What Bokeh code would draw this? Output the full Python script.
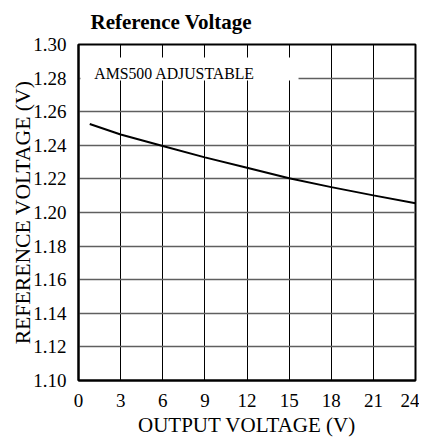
from bokeh.plotting import figure
from bokeh.models import Range1d, FixedTicker, PrintfTickFormatter, ColumnDataSource
from bokeh.core.properties import value
from bokeh.embed import file_html
from bokeh.resources import INLINE

# ---- data ----
output_voltage = [0.8, 3, 6, 9, 12, 15, 18, 21, 24]
reference_voltage = [1.2527, 1.2464, 1.2396, 1.2328, 1.2266, 1.2204, 1.2151, 1.2102, 1.2055]
x_ticks = [0, 3, 6, 9, 12, 15, 18, 21, 24]
y_ticks = [1.10, 1.12, 1.14, 1.16, 1.18, 1.20, 1.22, 1.24, 1.26, 1.28, 1.30]
series_label = "AMS500 ADJUSTABLE"
title_text = "Reference Voltage"
x_label = "OUTPUT VOLTAGE (V)"
y_label = "REFERENCE VOLTAGE (V)"

FONT = "Liberation Serif"

p = figure(
    frame_width=337, frame_height=336,
    x_range=Range1d(0, 24), y_range=Range1d(1.10, 1.30),
    output_backend="svg", toolbar_location=None,
    min_border_left=78, min_border_top=42, min_border_right=4, min_border_bottom=50,
    title=title_text,
)
p.background_fill_color = "white"
p.border_fill_color = "white"
p.outline_line_color = "black"
p.outline_line_width = 2

p.title.text_font = FONT
p.title.text_font_size = "21px"
p.title.text_font_style = "bold"
p.title.text_color = "black"
p.title.align = "left"
p.title.vertical_align = "top"
p.title.offset = 12
p.title.standoff = 18

for ax in (p.xaxis[0], p.yaxis[0]):
    ax.axis_line_color = "black"
    ax.axis_line_width = 2
    ax.major_tick_line_color = None
    ax.minor_tick_line_color = None
    ax.major_tick_out = 0
    ax.major_tick_in = 0
    ax.major_label_text_font = FONT
    ax.major_label_text_font_size = "19px"
    ax.major_label_text_color = "black"
    ax.axis_label_text_font = FONT
    ax.axis_label_text_font_style = "normal"
    ax.axis_label_text_color = "black"

p.xaxis.axis_label_text_font_size = "21px"
p.yaxis.axis_label_text_font_size = "21.7px"
p.xaxis.ticker = FixedTicker(ticks=x_ticks)
p.yaxis.ticker = FixedTicker(ticks=y_ticks)
p.yaxis.formatter = PrintfTickFormatter(format="%.2f")
p.xaxis.axis_label = x_label
p.yaxis.axis_label = y_label
p.xaxis.major_label_standoff = 13
p.yaxis.major_label_standoff = 12
p.xaxis.axis_label_standoff = 3
p.yaxis.axis_label_standoff = -5

p.xgrid.ticker = FixedTicker(ticks=x_ticks[1:-1])
p.ygrid.ticker = FixedTicker(ticks=y_ticks[1:-1])
p.xgrid.grid_line_color = "black"
p.xgrid.grid_line_width = 1
p.ygrid.grid_line_color = "#5f5f5f"
p.ygrid.grid_line_width = 1.4
p.xgrid.minor_grid_line_color = None
p.ygrid.minor_grid_line_color = None

src = ColumnDataSource(data=dict(x=output_voltage, y=reference_voltage))
p.line("x", "y", source=src, line_color="black", line_width=2)

# legend-like label box
p.quad(left=0.14, right=15.67, bottom=1.2786, top=1.2923,
       fill_color="white", line_color=None)
p.text(x=[1.12], y=[1.2826], text=[series_label],
       text_font=value(FONT), text_font_size="15.8px",
       text_color="black", text_baseline="alphabetic", text_align="left")

open("out.html", "w").write(file_html(p, INLINE))
